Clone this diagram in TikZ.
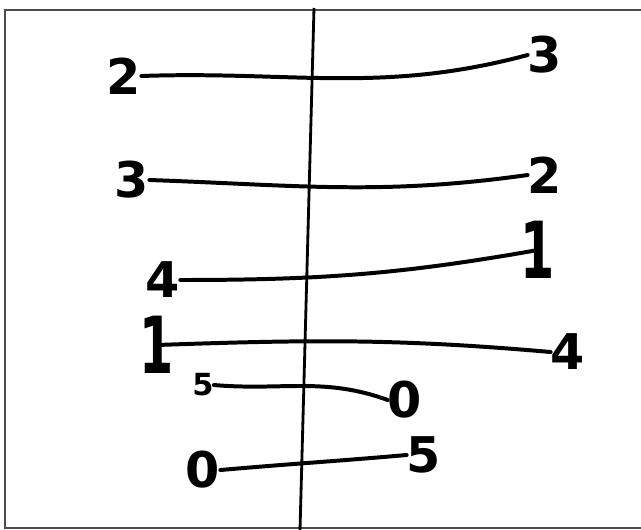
\documentclass[tikz,border=0pt]{standalone}
\usepackage{fontspec}
\setmainfont{DejaVu Sans}
\usepackage{tikz}

\begin{document}
\begin{tikzpicture}[
    x=0.03cm,y=-0.03cm,
    digit/.style={inner sep=0pt,font=\bfseries\fontsize{42}{46}\selectfont},
    smalldigit/.style={inner sep=0pt,font=\bfseries\fontsize{26}{30}\selectfont},
    tall/.style={yscale=1.6},
    wire/.style={line width=3.4pt,line cap=round,draw=black},
    axis/.style={line width=2.4pt,draw=black}
]
\useasboundingbox (0,0) rectangle (641,530);
\draw[line width=2pt,draw=black!70] (5,10) rectangle (660,528);

% middle line
\coordinate (top) at (314,8);
\coordinate (bot) at (300,530);
\draw[axis] (top) -- (bot);

% left column
\node[digit] (l1) at (124,76) {2};
\node[digit] (l2) at (132,180) {3};
\node[digit] (l3) at (163,280) {4};
\node[digit,tall] (l4) at (157,345) {1};
\node[smalldigit] (l5) at (203,385) {5};
\node[digit] (l6) at (203,470) {0};

% right column
\node[digit] (r1) at (545,55) {3};
\node[digit] (r2) at (545,175) {2};
\node[digit,tall] (r3) at (538,250) {1};
\node[digit] (r4) at (568,352) {4};
\node[digit] (r5) at (405,400) {0};
\node[digit] (r6) at (424,455) {5};

\draw[wire] (l1.east) to[out=2,in=195] (r1.west);
\draw[wire] (l2.east) to[out=-2,in=188] (r2.west);
\draw[wire] (l3.east) to[out=0,in=190] (r3.center);
\draw[wire] (l4.center) to[out=2,in=175] (r4.west);
\draw[wire] (l5.east) to[out=-5,in=160] (r5.west);
\draw[wire] (l6.east) to[out=5,in=185] (r6.west);
\end{tikzpicture}
\end{document}
